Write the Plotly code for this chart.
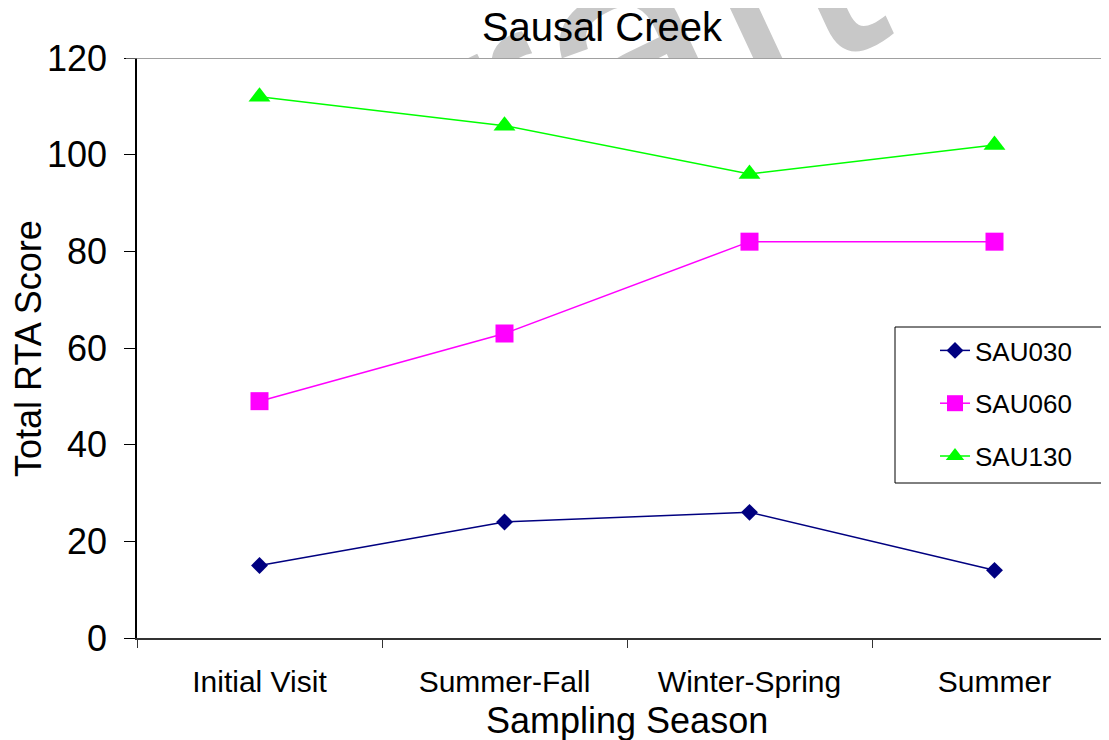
import plotly.graph_objects as go

seasons = ["Initial Visit", "Summer-Fall", "Winter-Spring", "Summer"]
sau030 = [15, 24, 26, 14]
sau060 = [49, 63, 82, 82]
sau130 = [112, 106, 96, 102]

# the page body has an 8px margin, so the figure is drawn 8px in from the window
OFF = 8
W, H = 1109 - OFF, 740 - OFF
PLOT_LEFT, PLOT_TOP, PLOT_BOTTOM = 137 - OFF, 58 - OFF, 638 - OFF
ML, MR, MT, MB = PLOT_LEFT, 0, 0, H - PLOT_BOTTOM
PW = W - ML - MR
PH = H - MT - MB
main_top = (PH - PLOT_TOP) / PH


def px(xr):
    return (xr - OFF - ML) / PW


def py(yr):
    return (PH - (yr - OFF)) / PH


FONT = "Liberation Sans, Arial, sans-serif"

fig = go.Figure()

series = [
    ("SAU030", sau030, "#000080", "diamond", 13),
    ("SAU060", sau060, "#FF00FF", "square", 18),
    ("SAU130", sau130, "#00FF00", "triangle-up", 19),
]
for name, vals, col, sym, sz in series:
    fig.add_trace(go.Scatter(
        x=seasons, y=vals, name=name, legendgroup=name,
        mode="lines+markers",
        line=dict(color=col, width=1.5),
        marker=dict(symbol=sym, size=sz, color=col, line=dict(width=0)),
        cliponaxis=False,
    ))

# invisible top subplot used to clip the watermark
fig.add_trace(go.Scatter(x=[], y=[], xaxis="x2", yaxis="y2",
                         showlegend=False, hoverinfo="skip"))

cat_w = 245.0
x_end = -0.5 + PW / cat_w

fig.update_layout(
    width=W, height=H,
    margin=dict(l=ML, r=MR, t=MT, b=MB, pad=0, autoexpand=False),
    paper_bgcolor="white", plot_bgcolor="white",
    font=dict(family=FONT, color="black"),
    showlegend=True,
    legend=dict(
        x=px(935), y=py(327), xanchor="left", yanchor="top",
        bgcolor="rgba(0,0,0,0)", borderwidth=0,
        font=dict(family=FONT, size=26, color="black"),
        tracegroupgap=16, traceorder="grouped",
    ),
    xaxis=dict(
        type="category", range=[-0.5, x_end], domain=[0, 1],
        showline=True, linecolor="#333333", linewidth=1.5,
        ticks="outside", ticklen=8, tickwidth=1.2, tickcolor="#333333",
        tickson="boundaries", showgrid=False, zeroline=False,
        tickfont=dict(family=FONT, size=30, color="black"),
        ticklabelstandoff=16, automargin=False,
        anchor="y",
    ),
    yaxis=dict(
        range=[0, 120], domain=[0, main_top], dtick=20,
        showline=True, linecolor="black", linewidth=1.5,
        ticks="outside", ticklen=11, tickwidth=1.2, tickcolor="black",
        showgrid=False, zeroline=False,
        tickfont=dict(family=FONT, size=36, color="black"),
        ticklabelstandoff=10, automargin=False,
        anchor="x",
    ),
    xaxis2=dict(domain=[0, 1], range=[0, 1], visible=False, anchor="y2",
                fixedrange=True, automargin=False),
    yaxis2=dict(domain=[main_top, 1], range=[0, 1], visible=False, anchor="x2",
                fixedrange=True, automargin=False),
    title=dict(text="Sausal Creek", x=(602 - OFF) / W, xref="container", xanchor="center",
               y=1 - (27 - OFF) / H, yref="container", yanchor="middle",
               font=dict(family=FONT, size=40, color="black"), automargin=False),
)

# legend frame
fig.add_shape(type="rect", xref="paper", yref="paper",
              x0=px(895), x1=px(1102), y0=py(483), y1=py(327),
              line=dict(color="black", width=1), fillcolor="white", layer="below")

# watermark, clipped to the strip above the plot area
wx = (546 - OFF - ML) / PW
wy = (PLOT_TOP - (51 - OFF)) / PLOT_TOP
fig.add_shape(
    type="rect", xref="x2", yref="y2",
    x0=wx - 0.001, x1=wx + 0.001, y0=wy - 0.001, y1=wy + 0.001,
    line=dict(width=0), fillcolor="rgba(0,0,0,0)", layer="above",
    label=dict(text="Draft", textangle=-25, textposition="middle center",
               font=dict(family=FONT, size=300, color="#c8c8c8")),
)

# top border line of the plot area
fig.add_shape(type="line", xref="paper", yref="y", x0=-11 / PW, x1=1, y0=120, y1=120,
              line=dict(color="#808080", width=1.5), layer="above")

# axis titles
fig.add_annotation(text="Total RTA Score", xref="paper", yref="paper",
                   x=px(28), y=py(349), textangle=-90,
                   showarrow=False, xanchor="center", yanchor="middle",
                   font=dict(family=FONT, size=36, color="black"))
fig.add_annotation(text="Sampling Season", xref="paper", yref="paper",
                   x=px(627), y=py(720),
                   showarrow=False, xanchor="center", yanchor="middle",
                   font=dict(family=FONT, size=36, color="black"))

fig.write_html("out.html")
